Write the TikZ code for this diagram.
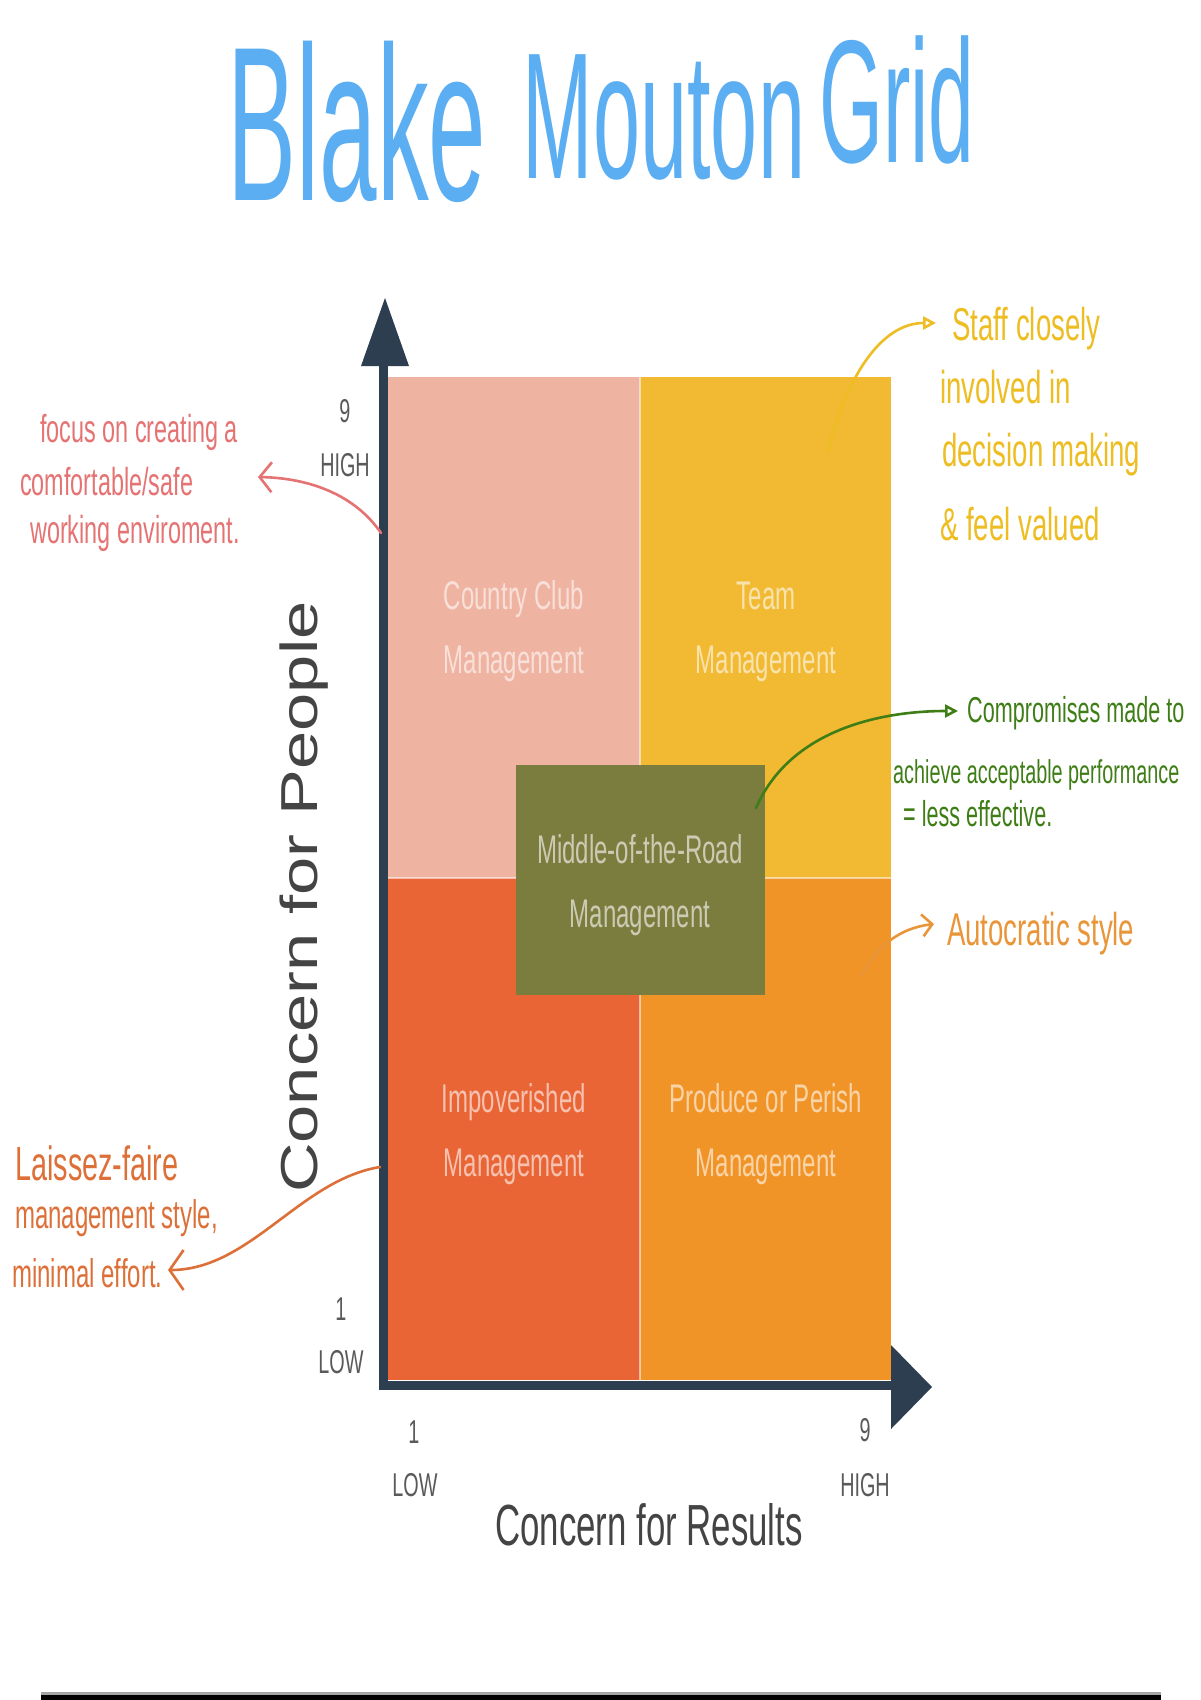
\documentclass[tikz,border=0pt]{standalone}
\usepackage{fontspec}
\setmainfont{Liberation Sans}
\newfontfamily\condfont[FakeStretch=0.6]{Liberation Sans}
\newfontfamily\titlefont[FakeStretch=0.47]{Liberation Sans}
\newfontfamily\widefont[FakeStretch=1.32]{Liberation Sans}
\newfontfamily\handfont[FakeStretch=0.6]{Liberation Sans}
\usetikzlibrary{arrows.meta}
\definecolor{titleblue}{HTML}{5CAEF2}
\definecolor{axisdark}{HTML}{2D3E50}
\definecolor{qtl}{HTML}{EFB3A2}
\definecolor{qtr}{HTML}{F2B933}
\definecolor{qbl}{HTML}{E96536}
\definecolor{qbr}{HTML}{F19427}
\definecolor{qmid}{HTML}{7B7D3F}
\definecolor{ticktext}{HTML}{5A5A5A}
\definecolor{axistext}{HTML}{444444}
\definecolor{pinkhand}{HTML}{E57373}
\definecolor{yellowhand}{HTML}{EDBD22}
\definecolor{greenhand}{HTML}{3F7D16}
\definecolor{orangehand}{HTML}{E9953A}
\definecolor{redhand}{HTML}{DD7038}
\tikzset{
  qlabel/.style={text=white, text opacity=0.6, align=center, anchor=base,
    font={\condfont\fontsize{40}{64}\selectfont}, inner sep=0pt},
  ticklabel/.style={text=ticktext, anchor=base, inner sep=0pt,
    font={\condfont\fontsize{33}{40}\selectfont}},
  titleword/.style={text=titleblue, anchor=base, inner sep=0pt},
  handline/.style={anchor=base west, inner sep=0pt},
  handarrow/.style={line width=2.6pt, line cap=round},
}
\begin{document}
\begin{tikzpicture}[x=1pt, y=-1pt]
\useasboundingbox (0,0) rectangle (1200,1700);
\fill[white] (0,0) rectangle (1200,1700);

% title
\node[titleword, font={\titlefont\fontsize{220}{220}\selectfont}] (tblake) at (357,200) {Blake};
\node[titleword, font={\titlefont\fontsize{180}{180}\selectfont}] (tmouton) at (664,178) {Mouton};
\node[titleword, font={\titlefont\fontsize{175}{175}\selectfont}] (tgrid) at (897,162) {Grid};

% quadrants
\fill[qtl] (388,377) rectangle (640,878);
\fill[qtr] (640,377) rectangle (891,878);
\fill[qbl] (388,878) rectangle (640,1380);
\fill[qbr] (640,878) rectangle (891,1380);
\draw[white, opacity=0.55, line width=2.5pt] (640,377) -- (640,1380);
\draw[white, opacity=0.55, line width=2.5pt] (388,878) -- (891,878);
\fill[qmid] (516,765) rectangle (765,995);

% axes
\draw[axisdark, line width=9pt] (383,1389.5) -- (383,362);
\fill[axisdark] (361,366) -- (409,366) -- (385,298) -- cycle;
\draw[axisdark, line width=9pt] (378.5,1385) -- (895,1385);
\fill[axisdark] (891,1345) -- (891,1429) -- (932,1387) -- cycle;

% quadrant labels (anchor = baseline of the last line)
\node[qlabel] (cc) at (514,673) {Country Club\\Management};
\node[qlabel] (tm) at (766,673) {Team\\Management};
\node[qlabel] (mr) at (640,927) {Middle-of-the-Road\\Management};
\node[qlabel] (im) at (514,1176) {Impoverished\\Management};
\node[qlabel] (pp) at (766,1176) {Produce or Perish\\Management};

% tick labels
\node[ticklabel] (y9) at (345,422) {9};
\node[ticklabel] (yhigh) at (345,476) {HIGH};
\node[ticklabel] (y1) at (341,1320) {1};
\node[ticklabel] (ylow) at (341,1373) {LOW};
\node[ticklabel] (x1) at (414,1443) {1};
\node[ticklabel] (xlow) at (415,1496) {LOW};
\node[ticklabel] (x9) at (865,1441) {9};
\node[ticklabel] (xhigh) at (865,1496) {HIGH};

% axis titles
\node[text=axistext, anchor=base, inner sep=0pt, font={\condfont\fontsize{58}{60}\selectfont}] (xtitle) at (649,1545) {Concern for Results};
\node[text=axistext, anchor=base, rotate=90, inner sep=0pt, font={\widefont\fontsize{52}{60}\selectfont}] (ytitle) at (317,897) {Concern for People};

% pink annotation
\begin{scope}[text=pinkhand, every node/.style={handline, font={\handfont\fontsize{39}{40}\selectfont}}]
\node (p1) at (40,442) {focus on creating a};
\node (p2) at (20,495) {comfortable/safe};
\node (p3) at (30,543) {working enviroment.};
\end{scope}
\coordinate (pinkstart) at (381,533);
\coordinate (pinktip) at (258,477);
\draw[pinkhand, handarrow, -{Straight Barb[length=12pt,width=30pt]}] (pinkstart) .. controls (355,495) and (310,478) .. (pinktip);

% yellow annotation
\begin{scope}[text=yellowhand, every node/.style={handline, font={\handfont\fontsize{46}{48}\selectfont}}]
\node (s1) at (952,340) {Staff closely};
\node (s2) at (940,403) {involved in};
\node (s3) at (942,466) {decision making};
\node (s4) at (940,540) {\& feel valued};
\end{scope}
\coordinate (yellowstart) at (828,452);
\coordinate (yellowtip) at (936,323);
\draw[yellowhand, handarrow, -{Triangle[open,length=13pt,width=13pt]}] (yellowstart) .. controls (845,380) and (880,323) .. (yellowtip);

% green annotation
\begin{scope}[text=greenhand]
\node[handline, font={\handfont\fontsize{36}{40}\selectfont}] (g1) at (967,722) {Compromises made to};
\node[handline, font={\handfont\fontsize{33}{40}\selectfont}] (g2) at (893,783) {achieve acceptable performance};
\node[handline, font={\handfont\fontsize{36}{40}\selectfont}] (g3) at (903,826) {= less effective.};
\end{scope}
\coordinate (greenstart) at (756,808);
\coordinate (greentip) at (958,711);
\draw[greenhand, handarrow, -{Triangle[open,length=13pt,width=13pt]}] (greenstart) .. controls (790,730) and (880,711) .. (greentip);

% autocratic annotation
\node[handline, text=orangehand, font={\handfont\fontsize{46}{48}\selectfont}] (au) at (947,945) {Autocratic style};
\coordinate (autostart) at (862,975);
\coordinate (autotip) at (934,924);
\draw[orangehand, handarrow, -{Straight Barb[length=10pt,width=22pt]}] (autostart) .. controls (878,945) and (900,928) .. (autotip);

% laissez-faire annotation
\begin{scope}[text=redhand]
\node[handline, font={\handfont\fontsize{48}{48}\selectfont}] (l1) at (15,1180) {Laissez-faire};
\node[handline, font={\handfont\fontsize{40}{44}\selectfont}] (l2) at (15,1228) {management style,};
\node[handline, font={\handfont\fontsize{40}{44}\selectfont}] (l3) at (12,1287) {minimal effort.};
\end{scope}
\coordinate (laisstart) at (380,1167);
\coordinate (laistip) at (168,1270);
\draw[redhand, handarrow, -{Straight Barb[length=14pt,width=40pt]}] (laisstart) .. controls (300,1180) and (250,1270) .. (laistip);

% bottom rule
\fill[black!35] (41,1692) rectangle (1161,1694.5);
\fill[black] (41,1694.5) rectangle (1161,1700);
\end{tikzpicture}
\end{document}
